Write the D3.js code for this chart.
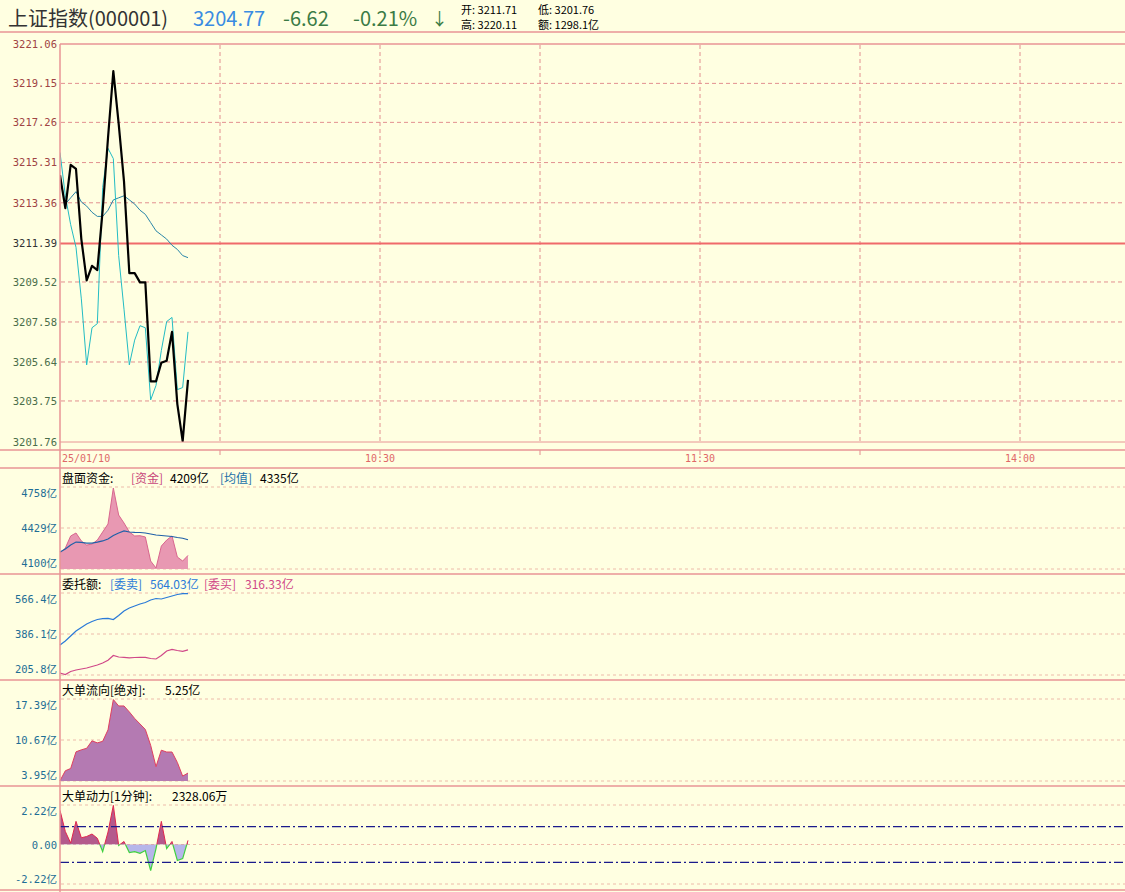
<!DOCTYPE html>
<html><head><meta charset="utf-8">
<script src="https://cdn.jsdelivr.net/npm/d3@7"></script>
<style>
html,body{margin:0;padding:0;background:#FFFFE1;}
svg{display:block;}
</style></head><body>
<svg id="c" width="1125" height="892"></svg>
<script>
// ---------- data ----------
const times = ["09:30","09:31","09:32","09:33","09:34","09:35","09:36","09:37","09:38","09:39","09:40","09:41","09:42","09:43","09:44","09:45","09:46","09:47","09:48","09:49","09:50","09:51","09:52","09:53","09:54"];
const price = [3214.7,3213.1,3215.2,3215.0,3211.6,3209.6,3210.3,3210.1,3213.0,3216.5,3219.75,3217.2,3214.4,3209.95,3209.95,3209.5,3209.5,3204.7,3204.7,3205.6,3205.7,3207.1,3203.6,3201.8,3204.77];
const leadLine = [3215.8,3213.7,3212.3,3211.2,3208.7,3205.5,3207.3,3207.5,3214.1,3216.0,3215.5,3210.8,3208.2,3205.5,3206.7,3207.4,3207.3,3203.8,3204.5,3206.2,3207.6,3207.8,3204.3,3204.4,3207.1];
const avgPrice = [3214.6,3213.3,3213.6,3213.9,3213.4,3213.2,3212.9,3212.7,3212.7,3213.0,3213.5,3213.6,3213.7,3213.5,3213.3,3213.0,3212.8,3212.4,3212.0,3211.8,3211.6,3211.3,3211.1,3210.8,3210.7];
const prevClose = 3211.39;
const priceTicks = [3221.06,3219.15,3217.26,3215.31,3213.36,3211.39,3209.52,3207.58,3205.64,3203.75,3201.76];

const fund = [4228,4268,4365,4389,4325,4292,4300,4332,4397,4461,4750,4533,4469,4397,4365,4367,4357,4164,4108,4284,4332,4365,4196,4164,4209];
const fundAvg = [4236,4260,4292,4316,4313,4308,4308,4316,4325,4341,4369,4389,4405,4397,4394,4393,4389,4381,4373,4369,4365,4361,4353,4347,4335];
const fundTicks = [4758,4429,4100];

const sellOrders = [337.7,355.3,377.3,399.3,414.7,430,441,449.8,453.4,455.1,449.8,467.4,487.2,500.4,509.2,518,524.6,535.6,542.2,540,546.6,553.2,559.8,563.3,564.03];
const buyOrders = [214.6,208,221.2,227.8,232.2,236.6,243.2,249.8,258.6,271,291.5,285,283.6,281.4,282.8,283.6,283.6,278.4,276.2,291.5,311.3,318.8,313.5,310,316.33];
const orderTicks = [566.4,386.1,205.8];

const bigFlow = [4.0,5.63,6.0,8.73,9.06,9.31,10.53,10.2,10.45,12.33,17.3,16.25,16.25,15.27,14.2,13.3,12.4,9.8,6.3,9.0,8.7,8.7,7.0,4.75,5.25];
const flowTicks = [17.39,10.67,3.95];

const bigPower = [1.92,0.73,0.08,1.3,0.38,0.45,0.59,0.35,-0.4,0.7,2.2,-0.05,0.17,-0.45,-0.4,-0.5,-0.34,-1.47,-0.23,1.3,-0.23,0.17,-0.9,-0.79,0.23];
const powerTicks = [2.22,0.00,-2.22];
const powerBands = [1.0,-1.0];

const gridTimes = ["10:00","10:30","11:00","11:30","13:30","14:00"];
const timeLabels = [["09:30","25/01/10"],["10:30","10:30"],["11:30","11:30"],["14:00","14:00"]];

// ---------- setup ----------
const W = 1125;
const svg = d3.select("#c");
const FR = "#E89494", GRID = "#E29090", PGRID = "#EDBBAA";
const MONO = "'DejaVu Sans Mono','Noto Sans CJK SC',monospace";
const CJK = "'Noto Sans CJK SC','Noto Sans',sans-serif";
const tIdx = t => { const [h,m] = t.split(":").map(Number); const mm = h*60+m; return mm <= 690 ? mm-570 : mm-780+120; };
const x = d3.scaleLinear().domain([0,240]).range([60,1340]);
const xs = times.map(tIdx);

svg.append("rect").attr("width",W).attr("height",892).attr("fill","#FFFFE1");

const defs = svg.append("defs");
function clip(id,x0,y0,w,h){ defs.append("clipPath").attr("id",id).append("rect").attr("x",x0).attr("y",y0).attr("width",w).attr("height",h); }

function hline(y,x1,x2,color,w,dash){ const l=svg.append("line").attr("x1",x1).attr("x2",x2).attr("y1",y).attr("y2",y).attr("stroke",color).attr("stroke-width",w); if(dash) l.attr("stroke-dasharray",dash); return l; }
function vline(xx,y1,y2,color,w,dash){ const l=svg.append("line").attr("x1",xx).attr("x2",xx).attr("y1",y1).attr("y2",y2).attr("stroke",color).attr("stroke-width",w); if(dash) l.attr("stroke-dasharray",dash); return l; }
function txt(s,xx,y,opt){ opt=opt||{}; return svg.append("text").attr("x",xx).attr("y",y).attr("dominant-baseline","central").attr("font-family",opt.ff||CJK).attr("font-size",opt.fs||12).attr("fill",opt.fill||"#000").attr("text-anchor",opt.anchor||"start").text(s); }

// ---------- header ----------
txt("上证指数(000001)",8,17,{fs:20,fill:"#333"});
txt("3204.77",193,17,{fs:20,fill:"#3A8CE2",ff:CJK});
txt("-6.62",283,17,{fs:20,fill:"#3B7B45"});
txt("-0.21%",353,17,{fs:20,fill:"#3B7B45"});
txt("↓",431,17,{fs:17,fill:"#3B7B45"});
txt("开: 3211.71",461,9,{fs:11});
txt("低: 3201.76",538,9,{fs:11});
txt("高: 3220.11",461,24,{fs:11});
txt("额: 1298.1亿",538,24,{fs:11});

// ---------- main chart ----------
const yM = d3.scaleLinear().domain([3201.76,3221.06]).range([442,44]);
clip("cm",60,44,W-60,398);
priceTicks.forEach(v=>{ if(v!==prevClose && v!==priceTicks[0] && v!==priceTicks[priceTicks.length-1]) hline(yM(v),61,W,GRID,1,"4,3"); });
gridTimes.forEach(t=>{ vline(x(tIdx(t)),45,442,GRID,1,"4,3"); vline(x(tIdx(t)),450,455,GRID,1); });
hline(yM(prevClose),60,W,"#F06A6A",2);

const axM = d3.axisLeft(yM).tickValues(priceTicks).tickSize(0).tickPadding(3).tickFormat(d3.format(".2f"));
const gM = svg.append("g").attr("transform","translate(60,0)").call(axM);
gM.select(".domain").remove();
gM.selectAll("text").attr("font-family",MONO).attr("font-size",10.5)
  .attr("fill",d=> d>prevClose ? "#A04444" : (d<prevClose ? "#4A6E4A" : "#333"));

const lineM = arr => d3.line().x((d,i)=>x(xs[i])).y(d=>yM(d))(arr);
const gl = svg.append("g").attr("clip-path","url(#cm)");
gl.append("path").attr("d",lineM(avgPrice)).attr("fill","none").attr("stroke","#2A86A8").attr("stroke-width",1);
gl.append("path").attr("d",lineM(leadLine)).attr("fill","none").attr("stroke","#22BCC4").attr("stroke-width",1);
gl.append("path").attr("d",lineM(price)).attr("fill","none").attr("stroke","#000").attr("stroke-width",2.2).attr("stroke-linejoin","round");

timeLabels.forEach(([t,l],k)=>{ txt(l, k===0?62:x(tIdx(t)), 458, {ff:MONO,fs:10,fill:"#E06868",anchor:k===0?"start":"middle"}); });

// ---------- frames ----------
hline(32,0,W,FR,1.5);
hline(44,60,W,FR,1.5);
hline(442,60,W,FR,1);
hline(450,0,W,FR,1.5);
[468,574,680,786,890].forEach(y=>hline(y,0,W,FR,1.5));

// ---------- panel helper ----------
const LBL = "#1E6E96";
function panel(top,bottom,yTop,yBot,ticks,suffixes){
  const y = d3.scaleLinear().domain([ticks[ticks.length-1],ticks[0]]).range([yBot,yTop]);
  ticks.forEach(v=>hline(y(v),61,W,PGRID,1,"3,3"));
  ticks.forEach((v,k)=>{
    const yy = Math.min(Math.max(y(v),top+25),bottom-11);
    txt(suffixes[k], 57, yy, {ff:MONO,fs:10.5,fill:LBL,anchor:"end"});
  });
  return y;
}

// P2 盘面资金
const y2 = panel(468,574,487,569,fundTicks,["4758亿","4429亿","4100亿"]);
svg.append("path").attr("d",d3.area().x((d,i)=>x(xs[i])).y0(y2(4100)).y1(d=>y2(d))(fund)).attr("fill","#E898B2");
svg.append("path").attr("d",d3.line().x((d,i)=>x(xs[i])).y(d=>y2(d))(fund)).attr("fill","none").attr("stroke","#D8668E").attr("stroke-width",1);
svg.append("path").attr("d",d3.line().x((d,i)=>x(xs[i])).y(d=>y2(d))(fundAvg)).attr("fill","none").attr("stroke","#2060A8").attr("stroke-width",1.2);
txt("盘面资金:",62,477);
txt("[资金]",131,477,{fill:"#C8467A"});
txt("4209亿",170,477);
txt("[均值]",220,477,{fill:"#1C70A8"});
txt("4335亿",260,477);

// P3 委托额
const y3 = panel(574,680,593,675,orderTicks,["566.4亿","386.1亿","205.8亿"]);
svg.append("path").attr("d",d3.line().x((d,i)=>x(xs[i])).y(d=>y3(d))(sellOrders)).attr("fill","none").attr("stroke","#2A7AD8").attr("stroke-width",1.2);
svg.append("path").attr("d",d3.line().x((d,i)=>x(xs[i])).y(d=>y3(d))(buyOrders)).attr("fill","none").attr("stroke","#D04888").attr("stroke-width",1.2);
txt("委托额:",62,583);
txt("[委卖]",110,583,{fill:"#2A7AD8"});
txt("564.03亿",150,583,{fill:"#2A7AD8"});
txt("[委买]",204,583,{fill:"#D04888"});
txt("316.33亿",245,583,{fill:"#D04888"});

// P4 大单流向
const y4 = panel(680,786,699,781,flowTicks,["17.39亿","10.67亿","3.95亿"]);
svg.append("path").attr("d",d3.area().x((d,i)=>x(xs[i])).y0(y4(3.95)).y1(d=>y4(d))(bigFlow)).attr("fill","#B47AB2");
svg.append("path").attr("d",d3.line().x((d,i)=>x(xs[i])).y(d=>y4(d))(bigFlow)).attr("fill","none").attr("stroke","#E04060").attr("stroke-width",1);
txt("大单流向[绝对]:",62,689);
txt("5.25亿",165,689);

// P5 大单动力
const y5 = panel(786,890,805,884,powerTicks,["2.22亿","0.00","-2.22亿"]);
const z = y5(0);
clip("pos",60,786,W-60,z-786);
clip("neg",60,z,W-60,890-z);
const aP = d3.area().x((d,i)=>x(xs[i])).y0(z).y1(d=>y5(d))(bigPower);
const lP = d3.line().x((d,i)=>x(xs[i])).y(d=>y5(d))(bigPower);
svg.append("path").attr("d",aP).attr("fill","#B45A8C").attr("clip-path","url(#pos)");
svg.append("path").attr("d",aP).attr("fill","#B6B6EA").attr("clip-path","url(#neg)");
svg.append("path").attr("d",lP).attr("fill","none").attr("stroke","#E0284E").attr("stroke-width",1).attr("clip-path","url(#pos)");
svg.append("path").attr("d",lP).attr("fill","none").attr("stroke","#40D040").attr("stroke-width",1.2).attr("clip-path","url(#neg)");
powerBands.forEach(v=>hline(y5(v),60,W,"#1A1A8C",1.3,"9,3,2,3"));
txt("大单动力[1分钟]:",62,795);
txt("2328.06万",172,795);

// left axis line
vline(60,44,892,FR,1.5);
</script>
